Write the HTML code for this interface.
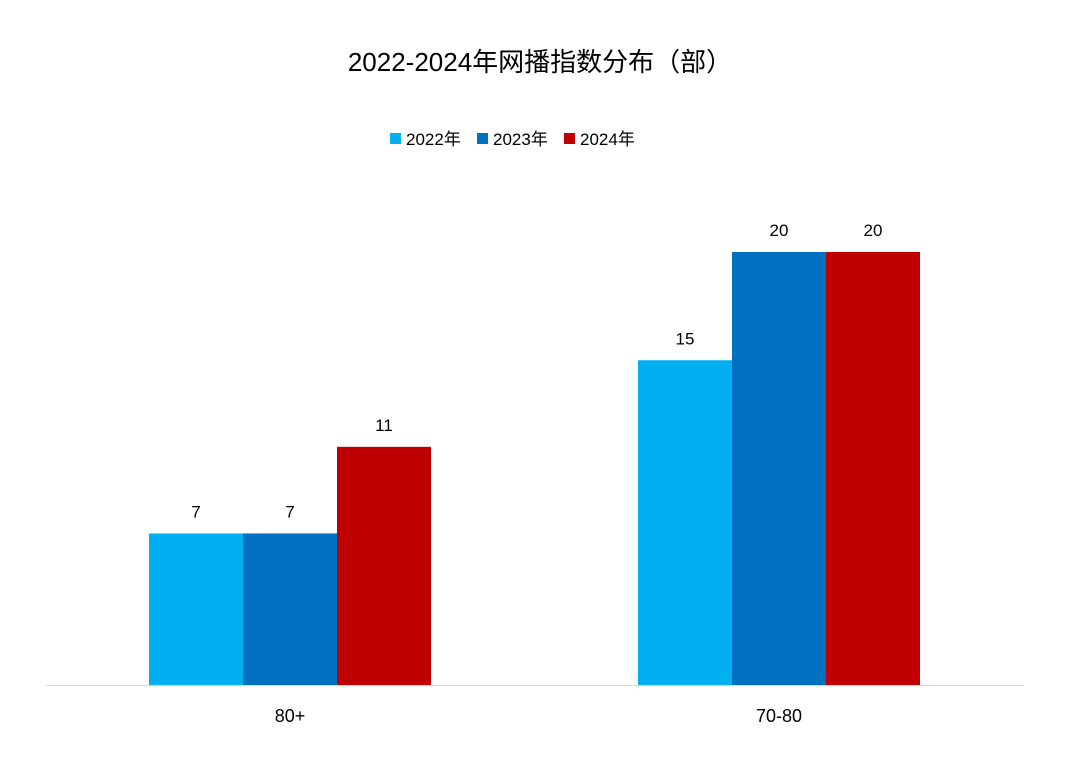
<!DOCTYPE html>
<html><head><meta charset="utf-8">
<style>
body{margin:0;background:#fff;}
svg{display:block;font-family:"Liberation Sans","Noto Sans CJK SC",sans-serif;}
</style></head>
<body>
<svg id="chart" width="1080" height="777" viewBox="0 0 1080 777">
  <text x="540" y="71" text-anchor="middle" font-size="26" fill="#000">2022-2024年网播指数分布（部）</text>
  <g id="legend"></g>
  <line x1="46" y1="685.5" x2="1024" y2="685.5" stroke="#d9d9d9" stroke-width="1"/>
  <g id="bars"></g>
</svg>
<script>
const categories = ["80+", "70-80"];
const seriesNames = ["2022年", "2023年", "2024年"];
const series2022 = [7, 15];
const series2023 = [7, 20];
const series2024 = [11, 20];
const seriesValues = [series2022, series2023, series2024];
const colors = ["#00b0f0", "#0070c0", "#c00000"];

const NS = "http://www.w3.org/2000/svg";
const baseY = 685, pxPerUnit = 21.65;
const groupCenters = [290, 779];
const barW = 94;
function yScale(v){ return baseY - v * pxPerUnit; }
function xCenter(i){ return groupCenters[i]; }

const barsG = document.getElementById("bars");
categories.forEach((cat, ci) => {
  const left = xCenter(ci) - barW * 1.5;
  seriesValues.forEach((vals, si) => {
    const v = vals[ci];
    const r = document.createElementNS(NS, "rect");
    r.setAttribute("x", left + si * barW);
    r.setAttribute("y", yScale(v));
    r.setAttribute("width", barW);
    r.setAttribute("height", baseY - yScale(v));
    r.setAttribute("fill", colors[si]);
    
    
    barsG.appendChild(r);
    const t = document.createElementNS(NS, "text");
    t.setAttribute("x", left + si * barW + barW / 2);
    t.setAttribute("y", yScale(v) - 16);
    t.setAttribute("text-anchor", "middle");
    t.setAttribute("font-size", "17");
    t.textContent = v;
    
    
    barsG.appendChild(t);
  });
  const ct = document.createElementNS(NS, "text");
  ct.setAttribute("x", xCenter(ci));
  ct.setAttribute("y", 722);
  ct.setAttribute("text-anchor", "middle");
  ct.setAttribute("font-size", "18");
  ct.textContent = cat;
  
  
  barsG.appendChild(ct);
});

const legendG = document.getElementById("legend");
const legendX = [390, 477, 564];
seriesNames.forEach((n, i) => {
  const g = document.createElementNS(NS, "g");
  
  
  const s = document.createElementNS(NS, "rect");
  s.setAttribute("x", legendX[i]); s.setAttribute("y", 133);
  s.setAttribute("width", 11); s.setAttribute("height", 11);
  s.setAttribute("fill", colors[i]);
  
  
  const t = document.createElementNS(NS, "text");
  t.setAttribute("x", legendX[i] + 16); t.setAttribute("y", 145);
  t.setAttribute("font-size", "17");
  t.textContent = n;
  
  
  g.appendChild(s); g.appendChild(t);
  legendG.appendChild(g);
});
</script>
</body></html>
